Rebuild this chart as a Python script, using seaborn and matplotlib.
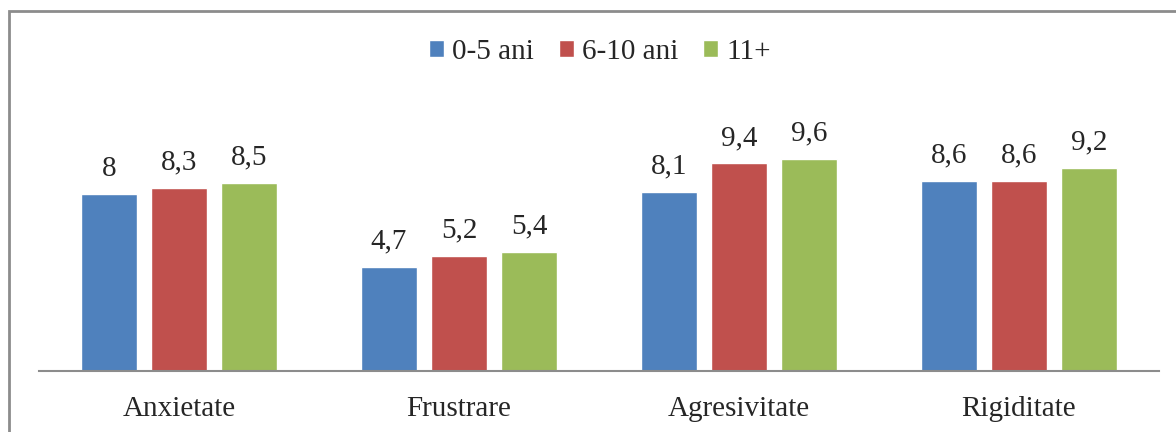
import pandas as pd
import seaborn as sns
import matplotlib.pyplot as plt
from matplotlib.patches import Rectangle

categorii = ['Anxietate', 'Frustrare', 'Agresivitate', 'Rigiditate']
grupe = ['0-5 ani', '6-10 ani', '11+']
val_0_5 = [8, 4.7, 8.1, 8.6]
val_6_10 = [8.3, 5.2, 9.4, 8.6]
val_11 = [8.5, 5.4, 9.6, 9.2]
culori = ['#4F81BD', '#C0504D', '#9BBB59']

df = pd.DataFrame({
    'categorie': categorii * 3,
    'grupa': [g for g in grupe for _ in categorii],
    'valoare': val_0_5 + val_6_10 + val_11,
})

sns.set_style('white')
plt.rcParams['font.family'] = ['Liberation Serif', 'DejaVu Serif']

fig = plt.figure(figsize=(11.76, 4.32), dpi=100)
ax = fig.add_axes([39 / 1176, 61 / 432, 1120 / 1176, 265 / 432])

sns.barplot(data=df, x='categorie', y='valoare', hue='grupa', palette=culori,
            width=0.75, gap=0.2, saturation=1, ax=ax, legend=True)

ax.set_ylim(0, 12)
ax.set_xlim(-0.5, 3.5)
ax.set_xlabel('')
ax.set_ylabel('')
ax.set_yticks([])
ax.tick_params(axis='x', length=0, labelsize=21, pad=18)
for s in ['top', 'right', 'left']:
    ax.spines[s].set_visible(False)
ax.spines['bottom'].set_color('#8C8C8C')
ax.spines['bottom'].set_linewidth(1.5)

for cont in ax.containers:
    ax.bar_label(cont, labels=[f'{v:g}'.replace('.', ',') for v in cont.datavalues],
                 padding=9, fontsize=21)

ax.legend(loc='center', bbox_to_anchor=(600 / 1176, 1 - 52 / 432),
          bbox_transform=fig.transFigure, ncol=3, frameon=False, fontsize=21,
          handlelength=0.5, handleheight=0.5, handletextpad=0.28, columnspacing=0.86)

fig.patches.append(Rectangle((9 / 1176, -0.1), 2, 1 - 11 / 432 + 0.1,
                             transform=fig.transFigure, fill=False,
                             edgecolor='#8C8C8C', linewidth=2))

fig.savefig('out.png', dpi=100)
